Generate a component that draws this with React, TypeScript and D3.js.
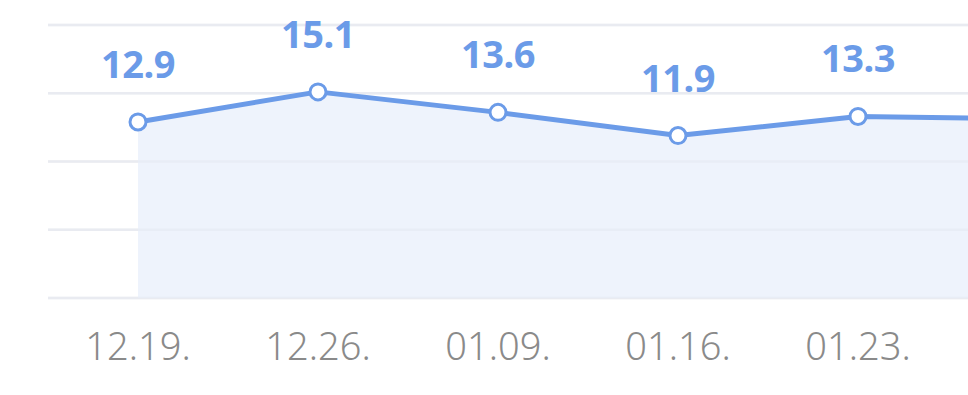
import React from "react";
import * as d3 from "d3";

const categories = ["12.19.", "12.26.", "01.09.", "01.16.", "01.23.", "01.30."];
const values = [12.9, 15.1, 13.6, 11.9, 13.3, 13.1];
const yTicks = [0, 5, 10, 15, 20];

const W = 968;
const H = 395;
const BLUE = "#6b9be8";

export default function App() {
  const x = d3.scaleBand<string>().domain(categories).range([48, 1128]).padding(0);
  const y = d3.scaleLinear().domain([0, 20]).range([298, 25]);
  const cx = (c: string) => (x(c) as number) + x.bandwidth() / 2;
  const pts = categories.map((c, i) => ({ c, v: values[i] }));
  const visible = pts.filter((d) => cx(d.c) < W);
  const line = d3.line<{ c: string; v: number }>().x((d) => cx(d.c)).y((d) => y(d.v));
  const area = d3
    .area<{ c: string; v: number }>()
    .x((d) => cx(d.c))
    .y0(y(0))
    .y1((d) => y(d.v));

  return (
    <svg
      width={W}
      height={H}
      style={{ position: "fixed", left: 0, top: 0, background: "#fff", overflow: "hidden" }}
    >
      {yTicks.map((t) => (
        <line key={t} x1={48} x2={W} y1={y(t)} y2={y(t)} stroke="#efeff1" strokeWidth={2.5} />
      ))}
      <path d={area(pts) || ""} fill="#eef3fc" />
      {yTicks.map((t) => (
        <line key={"o" + t} x1={48} x2={W} y1={y(t)} y2={y(t)} stroke="#e4e9f2" strokeWidth={2.5} opacity={0.5} />
      ))}
      <path d={line(pts) || ""} fill="none" stroke={BLUE} strokeWidth={5} strokeLinejoin="round" />
      {pts.map((d) => (
        <circle key={d.c} cx={cx(d.c)} cy={y(d.v)} r={8} fill="#fff" stroke={BLUE} strokeWidth={3} />
      ))}
      {visible.map((d) => (
        <text
          key={"l" + d.c}
          x={cx(d.c)}
          y={y(d.v) - 44}
          textAnchor="middle"
          fill={BLUE}
          fontFamily="'Noto Sans', 'Open Sans', sans-serif"
          fontWeight={700}
          fontSize={38}
          letterSpacing={-0.5}
        >
          {d.v.toFixed(1)}
        </text>
      ))}
      {visible.map((d) => (
        <text
          key={"x" + d.c}
          x={cx(d.c)}
          y={360}
          textAnchor="middle"
          fill="#8a8a8a"
          fontFamily="'Noto Sans', 'Open Sans', sans-serif"
          fontWeight={300}
          fontSize={38}
        >
          {d.c}
        </text>
      ))}
    </svg>
  );
}
